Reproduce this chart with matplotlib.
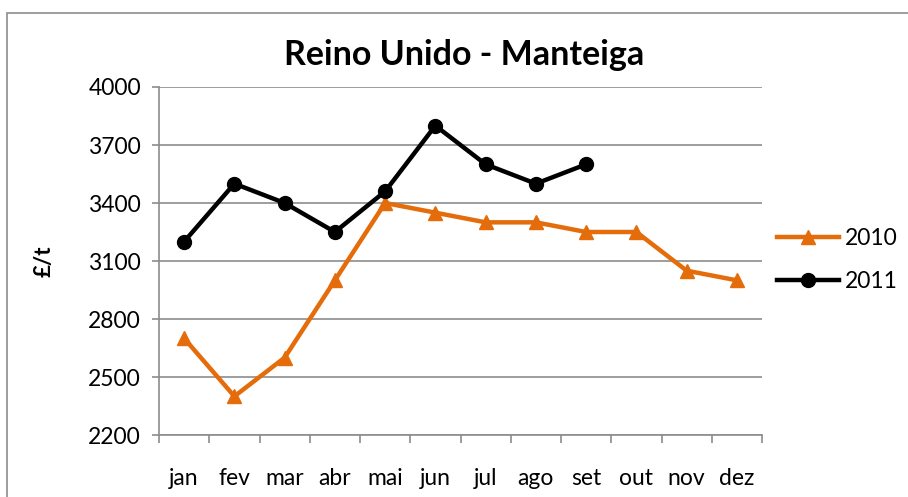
import matplotlib
matplotlib.use("Agg")
import matplotlib.pyplot as plt
from matplotlib.patches import Rectangle

months = ["jan", "fev", "mar", "abr", "mai", "jun", "jul", "ago", "set", "out", "nov", "dez"]
v2010 = [2700, 2400, 2600, 3000, 3400, 3350, 3300, 3300, 3250, 3250, 3050, 3000]
v2011 = [3200, 3500, 3400, 3250, 3460, 3800, 3600, 3500, 3600]
yticks = [2200, 2500, 2800, 3100, 3400, 3700, 4000]

plt.rcParams['font.family'] = ['Lato', 'DejaVu Sans']

fig = plt.figure(figsize=(9.08, 4.97), dpi=100)
fig.patches.append(Rectangle((7/908, -0.05), 1.2, 1 - 13/497 + 0.05, transform=fig.transFigure,
                             fill=False, edgecolor="#8c8c8c", linewidth=1.2))
ax = fig.add_axes([159/908, 62/497, (762-159)/908, (435-87)/497])

orange = "#e46c0a"
x10 = list(range(len(v2010)))
x11 = list(range(len(v2011)))
ax.plot(x10, v2010, color=orange, lw=3.2, marker="^", ms=10.5, label="2010", zorder=3)
ax.plot(x11, v2011, color="black", lw=3.2, marker="o", ms=10, label="2011", zorder=4)

ax.set_xlim(-0.5, 11.5)
ax.set_ylim(2200, 4000)
ax.set_yticks(yticks)
ax.set_yticklabels([str(t) for t in yticks], fontsize=16.5)
ax.set_xticks(x10)
ax.set_xticklabels(months, fontsize=16.5)
ax.set_xticks([i - 0.5 for i in range(13)], minor=True)
ax.tick_params(axis="x", which="major", length=0, pad=24)
ax.tick_params(axis="x", which="minor", length=6, color="#8c8c8c", width=1.2)
ax.tick_params(axis="y", length=5, color="#8c8c8c", width=1.2, pad=8)
ax.grid(axis="y", color="#8c8c8c", lw=1.2)
ax.set_axisbelow(True)
for s in ["top", "right"]:
    ax.spines[s].set_visible(False)
for s in ["left", "bottom"]:
    ax.spines[s].set_color("#8c8c8c")
    ax.spines[s].set_linewidth(1.2)

ax.set_ylabel("£/t", fontsize=16, fontweight="bold", labelpad=24)
fig.text(464/908, 1 - 55/497, "Reino Unido - Manteiga", ha="center", va="center",
         fontsize=24.5, fontweight="bold")

handles, labels = ax.get_legend_handles_labels()
fig.legend(handles, labels, loc="center left", bbox_to_anchor=(756/908, 1 - 260/497),
           frameon=False, fontsize=16.5, handlelength=2.7, labelspacing=1.0, handletextpad=0.3)

fig.savefig("out.png", dpi=100)
